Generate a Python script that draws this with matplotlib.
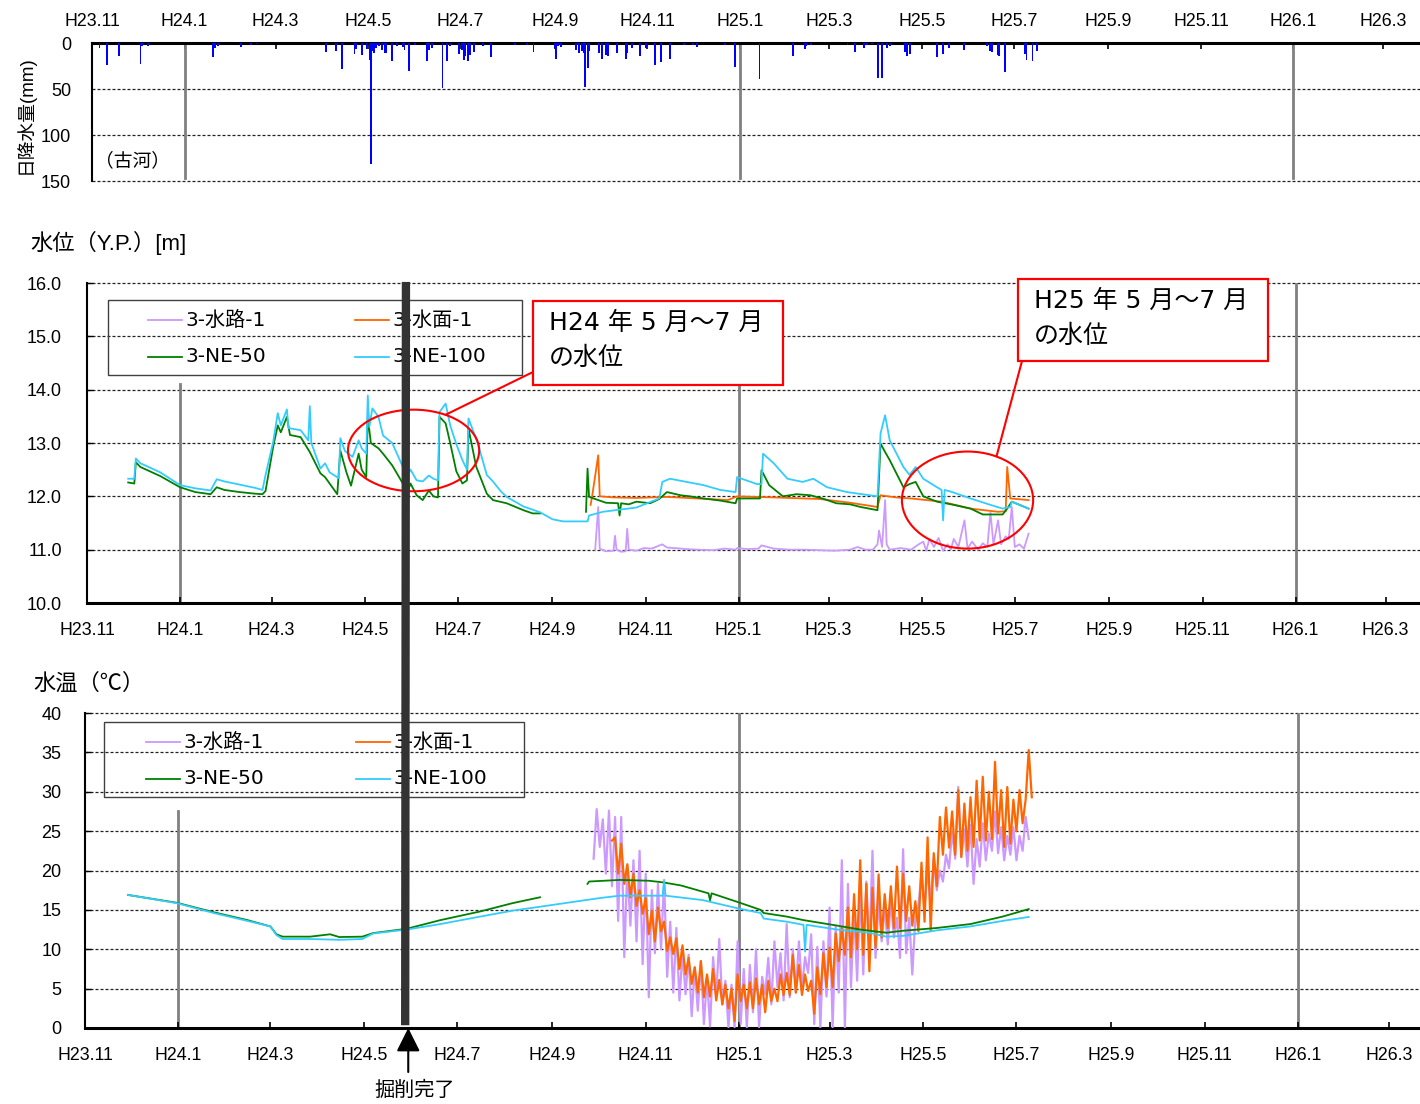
import matplotlib
matplotlib.use("Agg")
import matplotlib.pyplot as plt
import matplotlib.dates as mdates
import numpy as np
from matplotlib.lines import Line2D
from matplotlib.patches import ConnectionPatch, Ellipse, Rectangle

plt.rcParams["font.family"] = ["Liberation Sans", "Noto Sans CJK JP"]

W, H = 1420, 1104
ORIGIN = np.datetime64("2011-11-01")  # day 0 of the day-count lists below

# ---------------- daily rainfall (古河) ----------------
rain_day = [5, 10, 18, 32, 33, 37, 80, 81, 83, 98, 105, 109, 154, 161, 165, 173, 174,
            178, 181, 183, 184, 185, 186, 187, 189, 191, 193, 194, 198, 201, 205, 206,
            209, 213, 221, 222, 224, 231, 234, 236, 242, 244, 245, 246, 248, 249, 252,
            258, 263, 279, 287, 291, 305, 306, 307, 309, 319, 321, 323, 324, 325, 327,
            328, 334, 336, 339, 340, 346, 352, 353, 356, 361, 365, 371, 375, 381, 390,
            396, 399, 417, 424, 440, 462, 470, 471, 474, 498, 503, 509, 511, 514, 518,
            521, 524, 526, 536, 537, 539, 557, 561, 565, 575, 590, 592, 593, 597, 598,
            602, 615, 616, 620, 623]
rain_mm = [5.5, 24.4, 14.6, 22.6, 3.6, 3.0, 15.3, 5.5, 3.6, 4.4, 2.5, 1.5, 9.8, 9.0,
           28.0, 11.7, 6.0, 12.7, 7.0, 18.2, 132.0, 9.0, 11.0, 5.5, 3.6, 7.3, 11.0, 11.0,
           19.3, 3.6, 4.7, 7.3, 29.9, 2.6, 20.0, 7.3, 5.5, 49.0, 20.0, 3.6, 11.7, 7.3,
           18.2, 14.6, 20.0, 12.7, 10.2, 3.6, 15.3, 1.8, 2.5, 9.8, 5.5, 17.5, 3.6, 4.4,
           7.3, 11.0, 9.0, 11.0, 47.3, 27.3, 9.0, 11.0, 17.5, 12.7, 13.8, 11.0, 17.5,
           11.0, 5.5, 14.6, 5.5, 24.4, 21.1, 17.5, 2.2, 2.2, 4.7, 1.8, 26.6, 39.3, 14.6,
           6.5, 3.6, 1.8, 1.8, 10.2, 5.5, 1.8, 0.7, 37.5, 37.5, 5.5, 3.6, 10.2, 14.6,
           11.7, 15.7, 11.7, 5.5, 7.3, 3.6, 9.0, 10.2, 12.7, 13.8, 32.0, 11.7, 19.0, 20.0,
           9.0]

# ---------------- water level (Y.P. m) ----------------
lvl_route_day = [333, 335, 336, 340, 345, 346, 347, 350, 353, 354, 355, 360, 365, 370,
                 377, 380, 385, 393, 400, 410, 418, 425, 426, 433, 440, 442, 450, 460,
                 470, 480, 490, 500, 505, 510, 515, 518, 519, 521, 523, 524, 526, 533,
                 540, 545, 548, 550, 552, 555, 558, 561, 564, 566, 568, 571, 575, 577,
                 580, 584, 587, 590, 592, 594, 597, 599, 602, 604, 606, 608, 611, 614, 617]
lvl_route = [11.0, 11.8, 11.02, 10.97, 10.98, 11.26, 11.0, 10.96, 10.97, 11.39, 11.0,
             10.98, 11.03, 11.02, 11.1, 11.04, 11.03, 11.01, 11.0, 10.99, 11.02, 11.0,
             11.03, 11.01, 11.02, 11.08, 11.02, 11.0, 11.0, 10.99, 10.98, 11.0, 11.05,
             11.0, 11.0, 11.1, 11.36, 11.05, 11.93, 11.1, 11.0, 11.03, 11.0, 11.1, 11.15,
             10.98, 11.2, 11.05, 11.22, 10.98, 11.1, 11.0, 11.2, 11.05, 11.55, 11.02,
             11.15, 11.0, 11.12, 11.05, 11.7, 11.1, 11.55, 11.1, 11.25, 11.2, 11.8, 11.05,
             11.1, 11.02, 11.3]

lvl_surface_day = [330, 331, 335, 336, 345, 360, 380, 400, 420, 426, 450, 480, 500, 518,
                   520, 530, 540, 560, 579, 597, 602, 603, 605, 617]
lvl_surface = [11.84, 12.0, 12.77, 12.0, 11.98, 11.97, 11.99, 11.96, 11.93, 12.0, 11.98,
               11.95, 11.88, 11.80, 12.02, 11.98, 11.96, 11.9, 11.77, 11.71, 11.72, 12.55,
               11.96, 11.93]

lvl_ne50_day = [27, 31, 32, 35, 48, 61, 71, 81, 85, 90, 100, 110, 115, 117, 122, 125, 127,
                131, 133, 140, 146, 153, 156, 160, 164, 166, 170, 173, 178, 180, 183,
                184, 186, 188, 191, 194, 200, 207, 210, 212, 216, 220, 224, 227, 230,
                231, 235, 238, 242, 246, 249, 250, 255, 262, 266, 275, 286, 292, 297,
                310,
                327, 328, 329, 335, 340, 348, 349, 350, 355, 360, 369, 375, 380, 389, 395,
                404, 415, 425, 426, 441, 442, 447, 456, 465, 474, 483, 491, 500, 507, 518,
                520, 523, 526, 535, 539, 543, 548, 557, 568, 579, 587, 600, 603, 606, 617]
lvl_ne50 = [12.26, 12.24, 12.64, 12.55, 12.38, 12.17, 12.08, 12.04, 12.17, 12.12, 12.08,
            12.05, 12.04, 12.10, 12.93, 13.33, 13.20, 13.49, 13.15, 13.11, 12.83, 12.43,
            12.36, 12.2, 12.04, 12.86, 12.45, 12.2, 12.8, 12.5, 12.36, 13.49, 13.0,
            12.96, 12.9, 12.8, 12.58, 12.24, 12.08, 12.24, 12.02, 11.93, 12.11, 12.0,
            11.98, 13.49, 13.37, 13.0, 12.47, 12.24, 12.3, 13.27, 12.56, 12.05, 11.93,
            11.87, 11.74, 11.68, 11.68,
            np.nan,
            11.71, 12.52, 11.99, 11.93, 11.88, 11.87, 11.64, 11.87, 11.85, 11.90, 11.87,
            11.95, 12.08, 12.02, 12.0, 11.96, 11.92, 11.87, 11.96, 11.96, 12.49, 12.21,
            12.0, 12.04, 12.02, 11.95, 11.87, 11.85, 11.80, 11.74, 12.99, 12.83, 12.68,
            12.17, 12.23, 12.27, 12.0, 11.9, 11.84, 11.77, 11.66, 11.66, 11.77, 11.90,
            11.77]

lvl_ne100_day = [27, 31, 32, 35, 48, 61, 71, 81, 85, 90, 100, 110, 115, 117, 122, 125,
                 127, 131, 132, 140, 145, 146, 147, 153, 156, 159, 165, 166, 169, 174,
                 178, 180, 183, 184, 185, 187, 191, 194, 200, 207, 210, 212, 216, 220,
                 224, 227, 230, 231, 235, 238, 242, 246, 249, 250, 256, 262, 266, 271,
                 275, 286, 297, 305, 312, 328, 329, 338, 360, 375, 377, 382, 393, 404,
                 415, 425, 426, 439, 442, 443, 450, 459, 469, 476, 485, 498, 518, 520,
                 523, 526, 535, 539, 543, 548, 557, 560, 561, 562, 567, 579, 592, 600,
                 605, 606, 617]
lvl_ne100 = [12.33, 12.33, 12.71, 12.62, 12.45, 12.21, 12.15, 12.11, 12.32, 12.28, 12.22,
             12.16, 12.12, 12.40, 13.02, 13.56, 13.33, 13.63, 13.28, 13.24, 13.05, 13.69,
             13.0, 12.52, 12.62, 12.45, 12.34, 13.09, 12.85, 12.74, 13.05, 12.9, 12.8,
             13.89, 13.3, 13.65, 13.49, 13.14, 13.0, 12.55, 12.40, 12.5, 12.30, 12.28,
             12.39, 12.33, 12.30, 13.58, 13.74, 13.33, 12.98, 12.68, 12.50, 13.46, 13.0,
             12.4, 12.28, 12.1, 11.99, 11.81, 11.7, 11.57, 11.53, 11.53, 11.64, 11.71,
             11.79, 11.96, 12.27, 12.33, 12.27, 12.21, 12.12, 12.08, 12.36, 12.23, 12.23,
             12.80, 12.62, 12.33, 12.27, 12.33, 12.17, 12.08, 12.0, 13.18, 13.52, 13.05,
             12.55, 12.40, 12.55, 12.33, 12.17, 12.12, 11.55, 12.12, 12.08, 11.96, 11.84,
             11.77, 11.80, 11.9, 11.77]

# ---------------- water temperature (°C) ----------------
tmp_route_start = "2012-09-28"   # logged every 2 days
tmp_route = [21.5, 27.8, 23.0, 26.5, 19.6, 27.6, 18.0, 26.8, 13.6, 26.8,
             9.0, 20.5, 13.0, 21.3, 11.0, 22.5, 8.1, 19.6, 3.9, 17.5,
             9.5, 18.3, 10.0, 18.8, 6.5, 13.5, 4.5, 12.7, 3.5, 9.6,
             4.3, 9.3, 1.5, 7.7, 2.2, 8.5, 0.5, 6.5, 0.2, 9.0,
             4.0, 11.3, 3.0, 6.0, 0.1, 5.5, 0.1, 11.0, 0.5, 7.5,
             0.1, 8.0, 2.0, 10.0, 0.1, 6.5, 4.3, 8.9, 3.0, 11.0,
             5.2, 9.5, 3.5, 13.2, 3.9, 10.0, 4.5, 11.0, 5.0, 9.0,
             7.0, 11.9, 0.5, 10.3, 0.1, 11.0, 4.0, 15.3, 0.1, 13.0,
             4.5, 21.3, 0.1, 18.3, 5.2, 15.0, 6.0, 17.5, 6.8, 18.6,
             10.0, 22.5, 8.9, 16.0, 11.0, 15.3, 10.6, 16.1, 11.5, 14.0,
             8.9, 22.7, 9.5, 14.0, 6.8, 14.0, 15.5, 19.6, 15.3, 20.0,
             16.0, 21.6, 17.5, 20.0, 18.6, 22.0, 20.3, 25.0, 21.5, 30.6,
             21.8, 25.2, 20.5, 25.8, 18.3, 24.0, 20.5, 26.0, 21.3, 24.7,
             22.5, 27.5, 22.2, 25.5, 21.3, 24.4, 22.0, 25.5, 21.3, 24.4,
             22.5, 26.8, 24.0]

tmp_surface_start = "2012-10-10"  # logged every 2 days
tmp_surface = [23.8, 24.2, 19.6, 23.4, 18.3, 20.8, 16.6, 19.6, 15.5, 17.5,
               14.5, 16.5, 11.9, 14.9, 11.0, 15.3, 12.3, 13.5, 9.8, 11.5,
               9.4, 11.4, 7.5, 10.5, 6.8, 8.9, 5.6, 7.7, 4.5, 8.5,
               3.9, 6.8, 4.0, 7.5, 3.5, 6.1, 3.0, 5.5, 2.5, 5.0,
               0.9, 6.8, 3.4, 5.5, 2.5, 5.8, 2.5, 6.3, 3.0, 5.5,
               2.0, 6.0, 3.4, 5.0, 3.4, 6.8, 4.2, 7.0, 4.2, 9.3,
               4.5, 8.0, 4.2, 6.8, 4.7, 6.0, 1.8, 7.7, 4.3, 9.5,
               5.2, 10.2, 5.2, 12.0, 8.5, 12.7, 9.3, 15.3, 9.0, 17.0,
               10.0, 21.3, 9.3, 18.3, 7.2, 17.8, 10.2, 19.5, 11.5, 17.0,
               12.7, 18.0, 12.7, 20.5, 12.7, 19.6, 13.6, 18.0, 13.0, 16.1,
               12.3, 21.0, 13.5, 24.2, 12.3, 22.2, 18.0, 26.8, 22.0, 28.0,
               22.9, 27.5, 22.0, 30.2, 21.7, 28.5, 22.5, 29.3, 23.0, 31.4,
               23.8, 31.9, 23.8, 30.0, 24.0, 33.8, 24.7, 30.2, 23.0, 30.6,
               23.4, 29.0, 25.0, 30.2, 26.0, 29.0, 35.3, 29.3]

tmp_ne50_day = [28, 60, 84, 106, 121, 125, 129, 147, 160, 166, 181, 188, 210, 232, 258,
                279, 297, 312, 328, 329, 349, 368, 377, 389, 407, 408, 409, 426, 441,
                443, 458, 469, 491, 506, 523, 534, 556, 578, 599, 616]
tmp_ne50 = [16.9, 15.9, 14.7, 13.7, 12.9, 11.9, 11.6, 11.6, 11.9, 11.55, 11.6, 12.05,
            12.6, 13.7, 14.8, 15.85, 16.6, np.nan, 18.3, 18.6, 18.8, 18.7, 18.5, 18.1,
            17.1, 16.2, 17.1, 16.0, 15.0, 14.6, 14.15, 13.7, 13.0, 12.5, 12.1, 12.35,
            12.7, 13.2, 14.15, 15.1]

tmp_ne100_day = [28, 60, 84, 106, 121, 125, 129, 147, 166, 181, 188, 210, 232, 258, 279,
                 297, 336, 349, 377, 378, 379, 403, 426, 441, 443, 458, 469, 470, 471,
                 491, 512, 523, 534, 556, 578, 599, 616]
tmp_ne100 = [16.9, 15.85, 14.6, 13.6, 12.9, 11.8, 11.3, 11.3, 11.2, 11.3, 12.0, 12.5,
             13.2, 14.15, 14.9, 15.4, 16.5, 16.8, 16.8, 18.6, 16.8, 16.25, 15.2, 14.6,
             13.9, 13.5, 13.1, 9.7, 13.1, 12.5, 12.1, 11.6, 11.7, 12.4, 12.9, 13.6, 14.1]

series_names = ["3-水路-1", "3-水面-1", "3-NE-50", "3-NE-100"]
series_colors = ["#cc99ff", "#ff6600", "#008000", "#33ccff"]

year_marks = ["2012-01-01", "2013-01-01", "2014-01-01"]
excavation_done = "2012-05-28"

CJK = ["DejaVu Sans", "Noto Sans CJK JP"]
GRID = dict(color="#222222", lw=0.9, ls=(0, (2.4, 1.6)), zorder=1, clip_on=False)


def to_dates(days):
    return ORIGIN + np.asarray(days, dtype="timedelta64[D]")


def every_two_days(start, values):
    return np.datetime64(start) + np.arange(len(values)) * np.timedelta64(2, "D")


def dnum(date):
    return mdates.date2num(np.datetime64(date))


def fx(px):
    return px / W


def fy(py):
    return 1 - py / H


fig = plt.figure(figsize=(W / 100, H / 100), dpi=100)

tick_months = np.arange(np.datetime64("2011-11"), np.datetime64("2014-04"), 2)
tick_pos = mdates.date2num(tick_months.astype("datetime64[D]"))
tick_lab = [f"H{m.astype(object).year - 1988}.{m.astype(object).month}" for m in tick_months]


def add_panel(left, top, bottom, span_days):
    ax = fig.add_axes([fx(left), fy(bottom), fx(W - left), (bottom - top) / H])
    ax.set_xlim(dnum(ORIGIN), dnum(ORIGIN) + span_days)
    ax.set_xticks(tick_pos)
    ax.set_xticklabels(tick_lab, fontsize=12.8)
    ax.spines["right"].set_visible(False)
    ax.spines["left"].set_linewidth(1.5)
    ax.tick_params(axis="x", direction="in", length=4, width=1.2)
    ax.tick_params(axis="y", labelsize=13)
    return ax


# ---------- rainfall ----------
ax1 = add_panel(92, 43, 181, 875.4)
ax1.bar(to_dates(rain_day), rain_mm, width=1.2, color="#0000ff", linewidth=0, zorder=3)
ax1.set_ylim(150, 0)
ax1.set_yticks([0, 50, 100, 150])
ax1.xaxis.tick_top()
ax1.tick_params(axis="x", pad=9, top=True, bottom=False)
ax1.tick_params(axis="y", length=0, pad=15)
ax1.spines["bottom"].set_visible(False)
ax1.spines["top"].set_linewidth(2.2)
for v in (50, 100, 150):
    ax1.axhline(v, **GRID)
for d in year_marks:
    ax1.plot([dnum(d)] * 2, [0, 147], color="#808080", lw=2, zorder=2)
ax1.text(0.002, 0.15, "（古河）", transform=ax1.transAxes, fontsize=13.5,
         family=CJK, va="center")
fig.text(fx(25), fy(115), "日降水量(mm)", rotation=90, ha="center", va="center",
         fontsize=13.5, family=["Liberation Sans", "Noto Sans CJK JP"])

# ---------- water level ----------
ax2 = add_panel(87, 283, 603, 873.5)
ax2.set_ylim(10, 16)
ax2.set_yticks(np.arange(10, 16.1, 1.0))
ax2.set_yticklabels([f"{v:.1f}" for v in np.arange(10, 16.1, 1.0)])
ax2.tick_params(axis="y", direction="in", length=4, width=1.0, pad=18)
ax2.tick_params(axis="x", pad=14)
ax2.spines["top"].set_visible(False)
ax2.spines["bottom"].set_linewidth(2.2)
for v in range(11, 17):
    ax2.axhline(v, **GRID)
ax2.plot([dnum(year_marks[0])] * 2, [10, 14.1], color="#808080", lw=2, zorder=1.5)
ax2.plot([dnum(year_marks[1])] * 2, [10, 14.1], color="#808080", lw=2, zorder=1.5)
ax2.plot([dnum(year_marks[2])] * 2, [10, 16], color="#808080", lw=2, zorder=1.5)
level_sets = [(lvl_route_day, lvl_route), (lvl_surface_day, lvl_surface),
              (lvl_ne50_day, lvl_ne50), (lvl_ne100_day, lvl_ne100)]
for (days, vals), col in zip(level_sets, series_colors):
    ax2.plot(to_dates(days), vals, color=col, lw=1.3, zorder=3)
fig.text(fx(30), fy(243), "水位（Y.P.）[m]", fontsize=16, va="center",
         family=["Liberation Sans", "Noto Sans CJK JP"])

# ---------- water temperature ----------
ax3 = add_panel(85, 713, 1028, 871.4)
ax3.set_ylim(0, 40)
ax3.set_yticks(range(0, 41, 5))
ax3.tick_params(axis="y", direction="in", length=4, width=1.0, pad=17)
ax3.tick_params(axis="x", pad=14)
ax3.spines["top"].set_visible(False)
ax3.spines["bottom"].set_linewidth(2.2)
for v in range(5, 41, 5):
    ax3.axhline(v, **GRID)
ax3.plot([dnum(year_marks[0])] * 2, [0, 27.5], color="#808080", lw=2, zorder=1.5)
ax3.plot([dnum(year_marks[1])] * 2, [0, 40], color="#808080", lw=2, zorder=1.5)
ax3.plot([dnum(year_marks[2])] * 2, [0, 40], color="#808080", lw=2, zorder=1.5)
ax3.plot(every_two_days(tmp_route_start, tmp_route), tmp_route,
         color=series_colors[0], lw=1.6, zorder=3)
ax3.plot(every_two_days(tmp_surface_start, tmp_surface), tmp_surface,
         color=series_colors[1], lw=1.6, zorder=3)
ax3.plot(to_dates(tmp_ne50_day), tmp_ne50, color=series_colors[2], lw=1.3, zorder=3)
ax3.plot(to_dates(tmp_ne100_day), tmp_ne100, color=series_colors[3], lw=1.3, zorder=3)
fig.text(fx(33), fy(684), "水温（℃）", fontsize=16, va="center",
         family=["Liberation Sans", "Noto Sans CJK JP"])


# ---------- series keys (open frames, gridlines show through) ----------
def series_key(box, col_x, row_y):
    x0, y0, x1, y1 = box
    fig.add_artist(Rectangle((fx(x0), fy(y1)), (x1 - x0) / W, (y1 - y0) / H,
                             transform=fig.transFigure, fill=False,
                             edgecolor="#404040", lw=1.0, zorder=3))
    slots = [(col_x[0], row_y[0]), (col_x[1], row_y[0]),
             (col_x[0], row_y[1]), (col_x[1], row_y[1])]
    for (px, py), name, col in zip(slots, series_names, series_colors):
        fig.add_artist(Line2D([fx(px), fx(px + 34)], [fy(py), fy(py)], color=col,
                              lw=1.3, transform=fig.transFigure, zorder=3))
        fig.text(fx(px + 37), fy(py), name, va="center", fontsize=14.5,
                 family=CJK, zorder=3)


series_key((108, 300, 522, 375), (148, 355), (320, 357))
series_key((104, 722, 524, 797), (146, 356), (742, 779))

# ---------- highlighted periods ----------
ax2.add_patch(Ellipse((dnum("2012-06-02"), 12.86), 86, 1.53, fill=False,
                      edgecolor="red", lw=1.5, zorder=4))
ax2.add_patch(Ellipse((dnum("2013-05-31"), 11.93), 86, 1.82, fill=False,
                      edgecolor="red", lw=1.5, zorder=4))


def callout(box, lines):
    x0, y0, x1, y1 = box
    fig.add_artist(Rectangle((fx(x0), fy(y1)), (x1 - x0) / W, (y1 - y0) / H,
                             transform=fig.transFigure, facecolor="white",
                             edgecolor="red", lw=1.6, zorder=4))
    for i, t in enumerate(lines):
        fig.text(fx(x0 + 16), fy(y0 + 22 + i * 35), t, va="center", fontsize=18,
                 family=CJK, zorder=5)


callout((533, 301, 783, 385), ["H24 年 5 月～7 月", "の水位"])
callout((1018, 279, 1268, 361), ["H25 年 5 月～7 月", "の水位"])
fig.add_artist(ConnectionPatch((dnum("2012-06-23"), 13.53), (fx(533), fy(372)),
                               coordsA=ax2.transData, coordsB=fig.transFigure,
                               color="red", lw=1.5, zorder=4))
fig.add_artist(ConnectionPatch((dnum("2013-06-19"), 12.75), (fx(1022), fy(361)),
                               coordsA=ax2.transData, coordsB=fig.transFigure,
                               color="red", lw=1.5, zorder=4))

# ---------- excavation completed marker ----------
xe = dnum(excavation_done)
fig.add_artist(ConnectionPatch((xe, 16.02), (xe, 0.35), coordsA=ax2.transData,
                               coordsB=ax3.transData, color="#333333", lw=6,
                               capstyle="butt", zorder=6))
xa = dnum("2012-05-30")
ax3.annotate("", xy=(xa, 0), xytext=(0, -44), textcoords="offset pixels",
             annotation_clip=False,
             arrowprops=dict(arrowstyle="-|>,head_length=0.9,head_width=0.45",
                             mutation_scale=16, color="black", lw=1.5,
                             shrinkA=0, shrinkB=0))
fig.text(fx(415), fy(1090), "掘削完了", ha="center", va="center", fontsize=14.5,
         family=CJK)

fig.savefig("out.png", dpi=100, facecolor="white")
